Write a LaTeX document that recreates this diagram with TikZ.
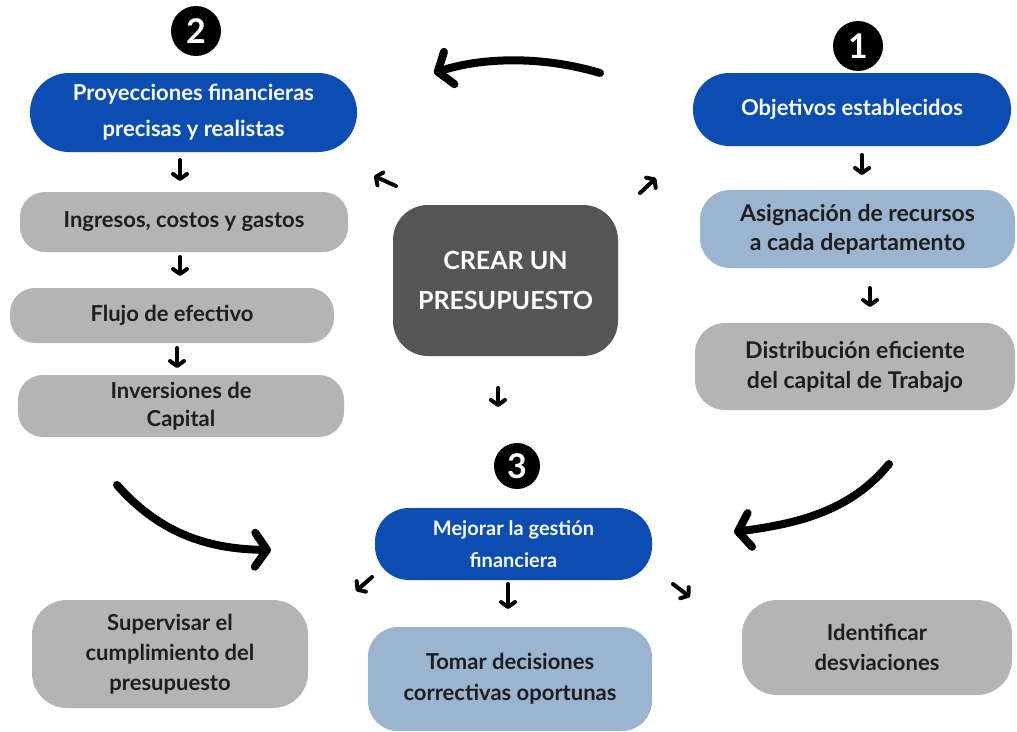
\documentclass[tikz,border=0pt]{standalone}
\usepackage{fontspec}
\setmainfont{Lato}
\usetikzlibrary{arrows.meta}
\definecolor{cblue}{HTML}{0B4DB2}
\definecolor{clight}{HTML}{9BB4D0}
\definecolor{cgray}{HTML}{B4B4B4}
\definecolor{cdark}{HTML}{555555}
\definecolor{ctext}{HTML}{1E1E1E}
\begin{document}
\begin{tikzpicture}[x=1pt,y=-1pt,
  box/.style={rectangle, align=center, inner sep=0pt, font=\fontsize{22}{30}\selectfont\bfseries},
  bluebox/.style={box, fill=cblue, text=white},
  graybox/.style={box, fill=cgray, text=ctext},
  lightbox/.style={box, fill=clight, text=ctext},
  badge/.style={circle, fill=black, text=white, minimum size=50pt, inner sep=0pt, font=\fontsize{34}{34}\selectfont\bfseries},
  small/.style={line width=4pt, line cap=round, -{Straight Barb[length=5pt,width=14pt,line cap=round,line join=round]}},
  big/.style={line width=8pt, line cap=round, -{Straight Barb[length=12pt,width=34pt,line cap=round,line join=round]}}
]
\clip (0,0) rectangle (1017,731);
\fill[white] (0,0) rectangle (1017,731);

% badges
\node[badge] (b2) at (196,31) {2};
\node[badge] (b1) at (858,46) {1};
\node[badge, minimum size=46pt] (b3) at (517,466) {3};

% column 2
\node[bluebox, minimum width=327pt, minimum height=79pt, rounded corners=39pt, font=\fontsize{22}{36}\selectfont\bfseries] (proy) at (193.5,112.5) {Proyecciones financieras\\precisas y realistas};
\node[graybox, minimum width=328pt, minimum height=60pt, rounded corners=25pt] (ing) at (184,222) {Ingresos, costos y gastos};
\node[graybox, minimum width=324pt, minimum height=55pt, rounded corners=25pt] (flu) at (172,315.5) {Flujo de efectivo};
\node[graybox, minimum width=326pt, minimum height=62pt, rounded corners=25pt, font=\fontsize{22}{28}\selectfont\bfseries] (inv) at (181,406) {Inversiones de\\Capital};

% center
\node[box, fill=cdark, text=white, minimum width=225pt, minimum height=151pt, rounded corners=35pt, font=\fontsize{25}{40}\selectfont\bfseries] (crear) at (505.5,280.5) {CREAR UN\\PRESUPUESTO};

% column 1
\node[bluebox, minimum width=318pt, minimum height=73pt, rounded corners=36pt] (obj) at (852,109.5) {Objetivos establecidos};
\node[lightbox, minimum width=315pt, minimum height=78pt, rounded corners=30pt, font=\fontsize{23}{29}\selectfont\bfseries] (asig) at (857.5,229) {Asignación de recursos\\a cada departamento};
\node[graybox, minimum width=320pt, minimum height=87pt, rounded corners=30pt, font=\fontsize{23}{30}\selectfont\bfseries] (dist) at (855,366.5) {Distribución eficiente\\del capital de Trabajo};

% bottom
\node[bluebox, minimum width=277pt, minimum height=72pt, rounded corners=34pt, font=\fontsize{20}{32}\selectfont\bfseries] (mej) at (513.5,544) {Mejorar la gestión\\financiera};
\node[graybox, minimum width=276pt, minimum height=108pt, rounded corners=35pt, font=\fontsize{22}{30}\selectfont\bfseries] (sup) at (170,654) {Supervisar el\\cumplimiento del\\presupuesto};
\node[lightbox, minimum width=284pt, minimum height=104pt, rounded corners=30pt, font=\fontsize{22}{31}\selectfont\bfseries] (tom) at (510,679) {Tomar decisiones\\correctivas oportunas};
\node[graybox, minimum width=270pt, minimum height=95pt, rounded corners=35pt, font=\fontsize{22}{30}\selectfont\bfseries] (ide) at (877,647.5) {Identificar\\desviaciones};

% small arrows
\coordinate (a1s) at (180,160); \coordinate (a1e) at (180,181);
\coordinate (a2s) at (180,257); \coordinate (a2e) at (180,276);
\coordinate (a3s) at (177,348); \coordinate (a3e) at (177,368);
\coordinate (a4s) at (396,186); \coordinate (a4e) at (374,176);
\coordinate (a5s) at (640,193); \coordinate (a5e) at (656,178);
\coordinate (a6s) at (498,388); \coordinate (a6e) at (498,407);
\coordinate (a7s) at (862,155); \coordinate (a7e) at (862,175);
\coordinate (a8s) at (870,288); \coordinate (a8e) at (870,307);
\coordinate (a9s) at (508,584); \coordinate (a9e) at (508,609);
\coordinate (a10s) at (372,577); \coordinate (a10e) at (356,591);
\coordinate (a11s) at (673,584); \coordinate (a11e) at (690,597);
\foreach \i in {1,...,11} \draw[small] (a\i s) -- (a\i e);

% big curved arrows
\coordinate (t1) at (600,73); \coordinate (t2) at (434,73);
\draw[big] (t1) .. controls (540,55) and (480,58) .. (t2);
\coordinate (l1) at (117,485); \coordinate (l2) at (271,550);
\draw[big] (l1) .. controls (162,536) and (212,549) .. (l2);
\coordinate (r1) at (889,464); \coordinate (r2) at (734,532);
\draw[big] (r1) .. controls (850,512) and (795,524) .. (r2);
\end{tikzpicture}
\end{document}
